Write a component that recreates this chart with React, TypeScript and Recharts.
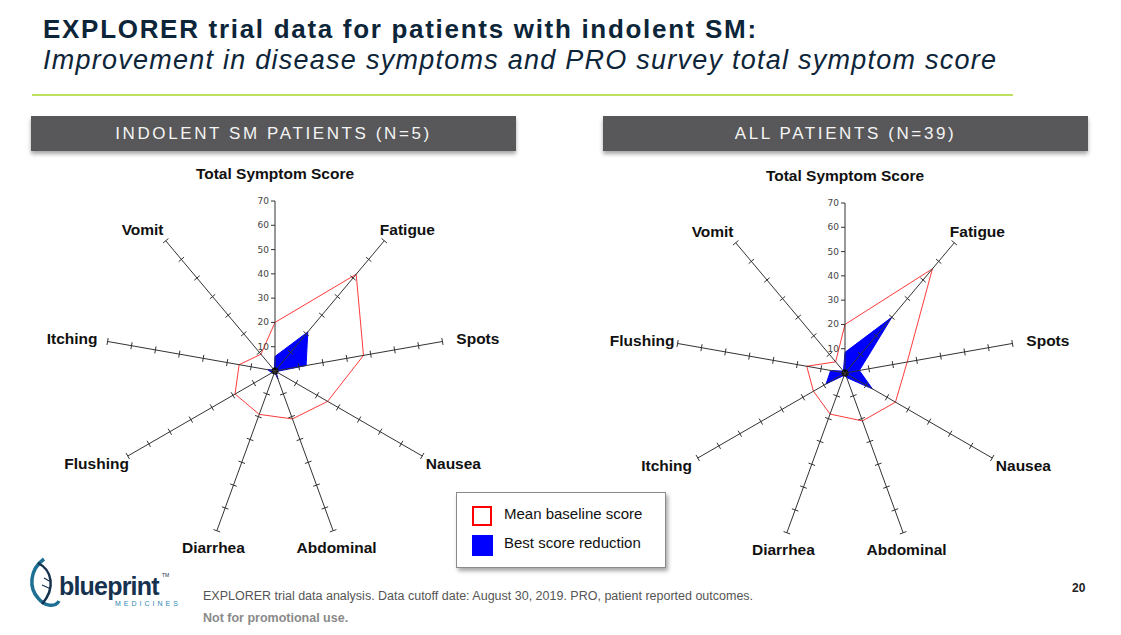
import { RadarChart, Radar, PolarAngleAxis, PolarRadiusAxis } from "recharts";

// ---- data ----
const leftAxes = ["Total Symptom Score", "Fatigue", "Spots", "Nausea", "Abdominal", "Diarrhea", "Flushing", "Itching", "Vomit"];
const leftBaseline = [20, 52, 37, 25, 21, 19, 19, 15, 9];
const leftBest = [6, 21, 13, 0.5, 3.5, 0.5, 1.5, 3, 0.5];

const rightAxes = ["Total Symptom Score", "Fatigue", "Spots", "Nausea", "Abdominal", "Diarrhea", "Itching", "Flushing", "Vomit"];
const rightBaseline = [20, 56, 26, 24, 21, 18, 15, 16, 6];
const rightBest = [8.5, 30, 6, 13, 2, 1, 9, 6, 1];

const radiusDomain = [0, 70];

const FONT = '"Liberation Sans", Arial, sans-serif';

function buildRows(axes: string[], baseline: number[], best: number[]) {
  return axes.map((axis, i) => ({ axis, baseline: baseline[i], best: best[i] }));
}

// tick marks across each spoke
function spokeTick(angleDeg: number, main: boolean) {
  return (props: any) => {
    const { x, y, payload } = props;
    if (payload.value === 0) {
      return main ? <circle cx={x} cy={y} r={3.5} fill="#000" /> : <g />;
    }
    if (main) {
      return (
        <g>
          <line x1={x - 4} y1={y} x2={x} y2={y} stroke="#333" strokeWidth={1} />
          <text x={x - 6} y={y} textAnchor="end" dominantBaseline="central" fontSize={9} fill="#444" fontFamily="'DejaVu Sans', sans-serif">
            {payload.value}
          </text>
        </g>
      );
    }
    const a = (angleDeg * Math.PI) / 180;
    const px = Math.sin(a) * 3.5;
    const py = Math.cos(a) * 3.5;
    return <line x1={x - px} y1={y - py} x2={x + px} y2={y + py} stroke="#333" strokeWidth={1} />;
  };
}

// category labels sit on an ellipse around the spokes
function angleLabel(cx: number, cy: number) {
  return (props: any) => {
    const { x, y, payload } = props;
    const dx = x - cx;
    const dy = y - cy;
    const len = Math.sqrt(dx * dx + dy * dy) || 1;
    const s = dx / len;
    const c = dy / len;
    const bottom = c > 0.8;
    const top = c < -0.95;
    const rx = bottom ? 180 : 206;
    const ry = top ? 198 : bottom ? 188 : 185;
    return (
      <text
        x={cx + s * rx}
        y={cy + c * ry}
        textAnchor="middle"
        dominantBaseline="central"
        fontSize={15.5}
        fontWeight="bold"
        fill="#111"
        fontFamily={FONT}
      >
        {payload.value}
      </text>
    );
  };
}

function SymptomRadar({ rows, cx, cy }: { rows: any[]; cx: number; cy: number }) {
  const spokes = rows.map((_, i) => 90 - i * (360 / rows.length));
  return (
    <RadarChart
      width={550}
      height={420}
      data={rows}
      cx={cx}
      cy={cy}
      outerRadius={170}
      startAngle={90}
      endAngle={-270}
      margin={{ top: 0, right: 0, bottom: 0, left: 0 }}
    >
      <PolarAngleAxis dataKey="axis" tick={angleLabel(cx, cy)} tickLine={false} axisLine={false} />
      {/* invisible series so every spoke axis gets its scale */}
      {spokes.slice(1).map((_, i) => (
        <Radar
          key={`h${i}`}
          radiusAxisId={i + 1}
          dataKey="baseline"
          stroke="none"
          fill="none"
          dot={false}
          legendType="none"
          isAnimationActive={false}
        />
      ))}
      <Radar radiusAxisId={0} dataKey="baseline" stroke="#ff3b3b" strokeWidth={1} fill="none" dot={false} isAnimationActive={false} />
      <Radar radiusAxisId={0} dataKey="best" stroke="#0000ff" strokeWidth={1} fill="#0000ff" fillOpacity={1} dot={false} isAnimationActive={false} />
      {spokes.map((ang, i) => (
        <PolarRadiusAxis
          key={i}
          radiusAxisId={i}
          angle={ang}
          domain={radiusDomain}
          tickCount={8}
          type="number"
          axisLine={{ stroke: "#333", strokeWidth: 1 }}
          tick={spokeTick(ang, i === 0)}
        />
      ))}
    </RadarChart>
  );
}

function Header({ left, text }: { left: number; text: string }) {
  return (
    <div
      style={{
        position: "absolute",
        left,
        top: 116,
        width: 485,
        height: 35,
        background: "#58585a",
        boxShadow: "0 3px 4px rgba(0,0,0,0.35)",
        color: "#f4f4f4",
        fontFamily: FONT,
        fontSize: 17,
        letterSpacing: 2.6,
        lineHeight: "35px",
        textAlign: "center",
      }}
    >
      {text}
    </div>
  );
}

export default function App() {
  const leftRows = buildRows(leftAxes, leftBaseline, leftBest);
  const rightRows = buildRows(rightAxes, rightBaseline, rightBest);
  return (
    <div style={{ position: "absolute", left: 0, top: 0, width: 1121, height: 635, background: "#fff", overflow: "hidden", fontFamily: FONT }}>
      <div style={{ position: "absolute", left: 43, top: 14, fontSize: 26, fontWeight: "bold", letterSpacing: 1.7, color: "#0d2538", whiteSpace: "nowrap" }}>
        EXPLORER trial data for patients with indolent SM:
      </div>
      <div style={{ position: "absolute", left: 43, top: 45, fontSize: 27, fontStyle: "italic", letterSpacing: 1.25, color: "#0d2538", whiteSpace: "nowrap" }}>
        Improvement in disease symptoms and PRO survey total symptom score
      </div>
      <div style={{ position: "absolute", left: 32, top: 94, width: 981, height: 2, background: "#bfe060" }} />

      <Header left={31} text="INDOLENT SM PATIENTS (N=5)" />
      <Header left={603} text="ALL PATIENTS (N=39)" />

      <div style={{ position: "absolute", left: 0, top: 160 }}>
        <SymptomRadar rows={leftRows} cx={275} cy={211} />
      </div>
      <div style={{ position: "absolute", left: 570, top: 160 }}>
        <SymptomRadar rows={rightRows} cx={275} cy={213} />
      </div>

      {/* legend */}
      <div
        style={{
          position: "absolute",
          left: 456,
          top: 492,
          width: 208,
          height: 74,
          border: "1px solid #8a8a8a",
          background: "#fff",
          boxShadow: "2px 3px 4px rgba(0,0,0,0.35)",
          fontSize: 15,
          color: "#111",
        }}
      >
        <div style={{ position: "absolute", left: 15, top: 13, width: 16, height: 16, border: "2px solid #ff0000" }} />
        <div style={{ position: "absolute", left: 47, top: 11, lineHeight: "20px" }}>Mean baseline score</div>
        <div style={{ position: "absolute", left: 15, top: 42, width: 21, height: 21, background: "#0000ff" }} />
        <div style={{ position: "absolute", left: 47, top: 40, lineHeight: "20px" }}>Best score reduction</div>
      </div>

      {/* logo */}
      <svg style={{ position: "absolute", left: 28, top: 556 }} width={160} height={54}>
        <path d="M16 3 C 1 14, 1 32, 10 42 C 16 50, 27 52, 31 45" fill="none" stroke="#1d6f93" strokeWidth={3.5} />
        <path d="M10 7 C 24 14, 28 32, 14 48" fill="none" stroke="#16324f" strokeWidth={2.5} />
        <path d="M16 22 L 23 26 M 14 29 L 23 33" stroke="#16324f" strokeWidth={1.2} />
        <text x={31} y={39} fontSize={25} fontWeight="bold" fill="#16324f" letterSpacing={-0.8} fontFamily={FONT}>blueprint</text>
        <text x={134} y={21} fontSize={5} fill="#16324f" fontFamily={FONT}>TM</text>
        <text x={87} y={50} fontSize={7} fill="#2a86b0" letterSpacing={3} fontFamily={FONT}>MEDICINES</text>
      </svg>

      <div style={{ position: "absolute", left: 203, top: 589, fontSize: 12.5, color: "#555", whiteSpace: "nowrap" }}>
        EXPLORER trial data analysis. Data cutoff date: August 30, 2019. PRO, patient reported outcomes.
      </div>
      <div style={{ position: "absolute", left: 203, top: 611, fontSize: 12.5, fontWeight: "bold", color: "#8a8a8a", whiteSpace: "nowrap" }}>
        Not for promotional use.
      </div>
      <div style={{ position: "absolute", left: 1072, top: 581, fontSize: 12, fontWeight: "bold", color: "#222" }}>20</div>
    </div>
  );
}
